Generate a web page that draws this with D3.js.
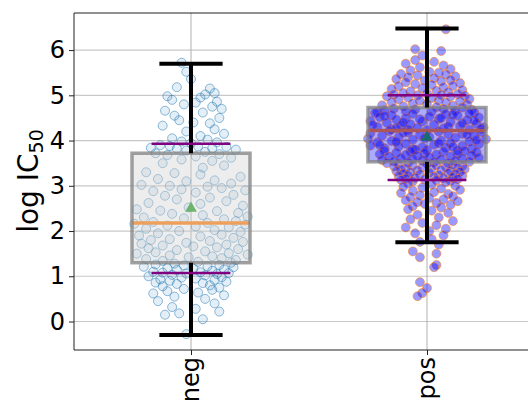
<!DOCTYPE html>
<html><head><meta charset="utf-8">
<script src="https://cdn.jsdelivr.net/npm/d3@7"></script>
<style>body{margin:0;background:#fff}svg{display:block}text{font-family:"DejaVu Sans",sans-serif}</style>
</head><body><svg id="c" width="528" height="404"></svg>
<script>
const categories = ["neg", "pos"];
const yTicks = [0, 1, 2, 3, 4, 5, 6];
const q1 = [1.30, 3.53];
const median = [2.18, 4.22];
const q3 = [3.72, 4.73];
const mean = [2.50, 4.07];
const whiskerLow = [-0.30, 1.75];
const whiskerHigh = [5.70, 6.48];
const pctLow = [1.07, 3.13];
const pctHigh = [3.93, 5.00];

// [jitter offset (category units), log IC50]
const negPoints = [
[-0.04,5.72],[-0.02,5.52],[0.00,5.36],[-0.06,5.18],[0.08,5.15],[0.10,5.05],[0.06,5.02],[-0.10,4.98],[0.04,4.95],[-0.08,4.90],[0.11,4.86],[0.02,4.84],[-0.03,4.80],[0.09,4.75],[0.13,4.70],[-0.11,4.66],[0.05,4.62],[-0.07,4.55],[0.12,4.50],[-0.05,4.45],[0.01,4.40],[0.08,4.38],[-0.12,4.33],[0.10,4.25],[-0.02,4.20],[0.14,4.15],[0.04,4.10],[-0.08,4.05],[0.07,4.02],[-0.04,3.98],[0.11,3.96],[0.00,3.94],
[-0.13,3.90],[-0.09,3.88],[0.03,3.87],[0.15,3.86],[-0.17,3.84],[0.09,3.83],[-0.06,3.82],[0.19,3.80],[-0.02,3.78],[0.06,3.75],[-0.15,3.72],[0.12,3.70],[-0.10,3.68],[0.02,3.65],[0.17,3.62],[-0.04,3.58],[0.09,3.55],[-0.12,3.50],[0.14,3.45],[0.05,3.40],
[-0.19,3.30],[-0.07,3.28],[0.04,3.25],[0.21,3.20],[-0.14,3.15],[0.10,3.12],[-0.02,3.10],[0.17,3.05],[-0.21,3.02],[-0.09,3.00],[0.07,2.98],[0.13,2.95],[-0.04,2.92],[0.23,2.90],[-0.16,2.88],[0.02,2.85],[0.18,2.80],[-0.11,2.78],[0.08,2.74],[-0.06,2.70],[0.15,2.66],[-0.18,2.62],[0.04,2.60],[0.22,2.56],[-0.01,2.52],
[-0.23,2.48],[-0.13,2.45],[0.11,2.44],[0.20,2.40],[-0.08,2.38],[0.05,2.35],[0.24,2.32],[-0.20,2.30],[-0.03,2.28],[0.14,2.26],[0.19,2.22],[-0.16,2.20],[0.07,2.18],[-0.24,2.16],[0.23,2.14],[-0.10,2.12],[0.02,2.10],[0.16,2.08],[-0.19,2.05],[0.10,2.02],[-0.05,2.00],[0.21,1.98],[-0.14,1.95],[0.13,1.92],[-0.22,1.90],[0.04,1.88],[0.18,1.85],[-0.09,1.82],[-0.17,1.80],[0.08,1.78],[0.22,1.76],[-0.02,1.74],[-0.21,1.72],[0.15,1.70],[-0.12,1.68],[0.01,1.66],[0.11,1.64],[-0.18,1.62],[0.20,1.60],[-0.06,1.58],[0.06,1.55],[-0.15,1.53],[0.16,1.51],[-0.23,1.50],[0.24,1.48],[-0.09,1.46],[0.09,1.44],[-0.01,1.42],[0.13,1.40],[-0.19,1.38],[0.19,1.36],[-0.12,1.34],[0.03,1.32],[0.17,1.30],[-0.07,1.28],
[-0.15,1.26],[0.12,1.25],[-0.03,1.24],[0.07,1.22],[-0.20,1.21],[0.18,1.20],[-0.10,1.18],[0.01,1.17],[0.14,1.15],[-0.06,1.14],[0.09,1.12],[-0.16,1.10],[0.04,1.09],[-0.12,1.08],[0.16,1.07],[-0.02,1.06],[0.11,1.05],[-0.08,1.03],[0.06,1.02],[-0.18,1.00],[0.13,0.98],[-0.04,0.97],[0.02,0.95],[-0.13,0.93],[0.10,0.92],[-0.09,0.90],[0.15,0.88],[-0.15,0.86],[0.05,0.85],[-0.06,0.83],[0.08,0.80],
[-0.12,0.78],[0.12,0.75],[-0.03,0.72],[0.09,0.70],[-0.10,0.67],[0.03,0.64],[-0.16,0.62],[0.14,0.58],[-0.07,0.55],[0.06,0.50],[-0.14,0.45],[0.10,0.40],[-0.08,0.32],[0.02,0.28],[0.12,0.22],[-0.05,0.18],[-0.11,0.15],[0.05,0.05],[-0.02,-0.28]
];

const posPoints = [
[0.08,6.46],[-0.05,6.02],[0.06,5.98],
[-0.02,5.88],[-0.05,5.78],[0.03,5.74],[-0.09,5.70],[0.07,5.66],[-0.03,5.62],[0.10,5.58],[-0.07,5.55],[0.01,5.52],[0.05,5.50],
[-0.11,5.47],[0.08,5.46],[-0.04,5.44],[0.12,5.42],[-0.08,5.40],[0.03,5.38],[-0.13,5.36],[0.10,5.34],[-0.01,5.33],[0.06,5.31],[-0.09,5.29],[0.14,5.27],[-0.05,5.25],[0.02,5.23],[0.11,5.21],[-0.12,5.20],[0.07,5.18],[-0.02,5.16],[-0.15,5.14],[0.15,5.12],[0.04,5.10],[-0.07,5.09],[0.09,5.07],[-0.10,5.05],[0.00,5.04],[0.13,5.03],[-0.14,5.02],[0.06,5.01],[-0.04,5.00],[0.16,4.99],
[-0.17,4.98],[0.10,4.97],[-0.08,4.95],[0.02,4.94],[0.18,4.92],[-0.12,4.91],[0.05,4.89],[-0.03,4.88],[0.14,4.87],[-0.15,4.85],[0.08,4.84],[-0.06,4.82],[0.00,4.81],[0.17,4.80],[-0.19,4.78],[0.11,4.77],[-0.10,4.76],[0.04,4.74],[0.15,4.73],[-0.14,4.71],[0.07,4.70],[-0.05,4.69],[0.19,4.68],[-0.18,4.67],[0.12,4.66],[-0.09,4.65],[0.02,4.64],[-0.21,4.63],[0.20,4.62],
[-0.22,4.61],[0.18,4.60],[-0.06,4.59],[0.08,4.58],[-0.15,4.56],[0.13,4.55],[0.01,4.53],[-0.20,4.52],[0.22,4.51],[-0.09,4.49],[0.05,4.48],[-0.13,4.46],[0.17,4.45],[-0.24,4.43],[-0.02,4.42],[0.10,4.41],[-0.17,4.39],[0.21,4.37],[-0.07,4.36],[0.03,4.35],[-0.11,4.33],[0.14,4.32],[-0.21,4.30],[0.24,4.29],[-0.04,4.28],[0.07,4.27],[-0.15,4.25],[0.18,4.24],[0.00,4.23],
[0.11,4.57],[-0.18,4.54],[0.06,4.50],[-0.03,4.47],[0.20,4.44],[-0.10,4.40],[0.15,4.38],[-0.23,4.34],[0.09,4.31],[-0.13,4.27],[0.23,4.26],[-0.08,4.24],
[-0.16,4.21],[0.05,4.20],[0.23,4.19],[-0.08,4.18],[-0.24,4.16],[0.15,4.15],[0.09,4.14],[-0.03,4.12],[-0.19,4.11],[0.20,4.10],[0.01,4.08],[-0.12,4.07],[0.12,4.06],[-0.25,4.04],[0.25,4.03],[-0.06,4.02],[0.06,4.00],[-0.15,3.99],[0.18,3.98],[-0.21,3.96],[0.10,3.95],[-0.09,3.93],[0.22,3.92],[0.03,3.91],[-0.24,3.89],[0.15,3.88],[-0.12,3.87],[-0.02,3.85],[0.08,3.84],[-0.18,3.83],[0.19,3.82],[-0.06,3.81],[0.00,3.79],[0.13,3.78],[-0.10,4.17],[0.17,4.13],[-0.01,4.05],[0.21,4.01],[-0.13,3.97],[0.05,3.94],[-0.20,3.90],[0.11,3.86],[-0.05,3.80],
[-0.18,3.77],[0.16,3.77],[-0.07,3.76],[0.07,3.75],[0.21,3.74],[-0.13,3.73],[-0.01,3.72],[0.13,3.71],[-0.20,3.70],[0.04,3.69],[-0.09,3.68],[0.19,3.67],[-0.04,3.66],[0.10,3.65],[-0.16,3.64],[0.01,3.63],[0.22,3.62],[-0.11,3.61],[0.15,3.60],[-0.06,3.59],[0.06,3.58],[-0.19,3.57],[-0.02,3.56],[0.12,3.55],[-0.14,3.54],[0.18,3.53],[0.03,3.52],[-0.08,3.51],[0.09,3.50],[-0.17,3.50],
[0.00,3.49],[-0.12,3.48],[0.11,3.47],[0.04,3.46],[-0.06,3.45],[0.15,3.44],[-0.14,3.43],[0.08,3.42],[-0.02,3.41],[0.13,3.40],[-0.09,3.39],[0.02,3.38],[0.16,3.37],[-0.11,3.36],[0.06,3.35],[-0.04,3.34],[0.10,3.33],[-0.13,3.32],[0.14,3.31],[-0.07,3.30],[0.01,3.29],[0.09,3.28],[-0.10,3.27],[0.12,3.26],[-0.03,3.25],[0.05,3.24],[-0.08,3.23],[0.15,3.22],[-0.12,3.21],[0.03,3.20],[0.11,3.19],[-0.05,3.18],[0.07,3.17],[-0.09,3.16],[0.13,3.15],[-0.01,3.14],[-0.11,3.13],[0.04,3.12],[0.10,3.11],[-0.06,3.10],
[0.08,3.08],[-0.08,3.05],[0.02,3.03],[0.12,3.00],[-0.10,2.98],[-0.02,2.96],[0.06,2.94],[0.14,2.91],[-0.06,2.89],[0.03,2.86],[-0.11,2.84],[0.09,2.82],[-0.03,2.79],[0.11,2.77],[-0.07,2.75],[0.01,2.73],[0.07,2.70],[-0.09,2.68],[0.13,2.66],[-0.04,2.64],[0.04,2.62],[-0.01,2.60],[0.10,2.58],[-0.06,2.55],[0.06,2.52],
[-0.08,2.48],[0.02,2.45],[0.09,2.40],[-0.04,2.36],[0.05,2.30],[-0.07,2.26],[0.11,2.22],[-0.02,2.18],[0.04,2.13],[-0.09,2.08],[0.08,2.05],[0.01,2.00],
[-0.05,1.95],[0.07,1.90],[0.02,1.82],[-0.03,1.76],[0.05,1.70],[-0.06,1.55],[0.04,1.50],[-0.03,1.42],
[0.04,1.25],[0.03,1.20],[-0.03,0.87],[0.00,0.74],[-0.02,0.63],[-0.04,0.56]
];

const pointSets = [negPoints, posPoints];
const pointStyle = [
  {fill:"#1f77b4", fo:0.12, stroke:"#1f77b4", so:0.5},
  {fill:"#0000ff", fo:0.4, stroke:"#ff7f0e", so:0.55}
];
const boxFill = [{c:"#d3d3d3", o:0.4}, {c:"#0000ff", o:0.33}];

const svg = d3.select("#c");
const L = 74, T = 13, B = 350, R = 545;
const x = d3.scaleLinear().domain([-0.5, 1.5]).range([73, 545]);
const y = d3.scaleLinear().domain([-0.63, 6.82]).range([B, T]);

svg.append("defs").append("clipPath").attr("id","clip")
  .append("rect").attr("x",L).attr("y",T).attr("width",R-L).attr("height",B-T);

// grid
const grid = svg.append("g");
grid.selectAll(".hg").data(yTicks).join("line")
  .attr("x1",L).attr("x2",R).attr("y1",d=>y(d)).attr("y2",d=>y(d))
  .attr("stroke","#b0b0b0").attr("stroke-opacity",0.7).attr("stroke-width",1.2);
grid.selectAll(".vg").data(categories).join("line")
  .attr("x1",(d,i)=>x(i)).attr("x2",(d,i)=>x(i)).attr("y1",T).attr("y2",B)
  .attr("stroke","#b0b0b0").attr("stroke-width",1);

const plot = svg.append("g").attr("clip-path","url(#clip)");
const capHalf = 0.134, pctHalf = 0.167, boxHalf = 0.25;

categories.forEach((cat, i) => {
  const st = pointStyle[i];
  plot.append("g").selectAll("circle").data(pointSets[i]).join("circle")
    .attr("cx", d => x(i + d[0])).attr("cy", d => y(d[1])).attr("r", 4.5)
    .attr("fill", st.fill).attr("fill-opacity", st.fo)
    .attr("stroke", st.stroke).attr("stroke-opacity", st.so).attr("stroke-width", 1);
  // median
  plot.append("line").attr("x1", x(i-boxHalf)).attr("x2", x(i+boxHalf))
    .attr("y1", y(median[i])).attr("y2", y(median[i]))
    .attr("stroke","#ff7f0e").attr("stroke-width",3.5);
  // mean
  plot.append("path").attr("d", d3.symbol(d3.symbolTriangle, 60)())
    .attr("transform", `translate(${x(i)},${y(mean[i])})`).attr("fill","#2ca02c");
  // box
  plot.append("rect").attr("x", x(i-boxHalf)).attr("width", x(i+boxHalf)-x(i-boxHalf))
    .attr("y", y(q3[i])).attr("height", y(q1[i])-y(q3[i]))
    .attr("fill", boxFill[i].c).attr("fill-opacity", boxFill[i].o)
    .attr("stroke","#808080").attr("stroke-opacity",0.75).attr("stroke-width",3.5);
  // whiskers
  plot.append("line").attr("x1",x(i)).attr("x2",x(i)).attr("y1",y(q3[i])).attr("y2",y(whiskerHigh[i]))
    .attr("stroke","#000").attr("stroke-width",4);
  plot.append("line").attr("x1",x(i)).attr("x2",x(i)).attr("y1",y(q1[i])).attr("y2",y(whiskerLow[i]))
    .attr("stroke","#000").attr("stroke-width",4);
  [whiskerLow[i], whiskerHigh[i]].forEach(v => {
    plot.append("line").attr("x1",x(i-capHalf)).attr("x2",x(i+capHalf)).attr("y1",y(v)).attr("y2",y(v))
      .attr("stroke","#000").attr("stroke-width",4);
  });
  [pctLow[i], pctHigh[i]].forEach(v => {
    plot.append("line").attr("x1",x(i-pctHalf)).attr("x2",x(i+pctHalf)).attr("y1",y(v)).attr("y2",y(v))
      .attr("stroke","#800080").attr("stroke-width",2.5);
  });
});

// spines
svg.append("line").attr("x1",L).attr("x2",L).attr("y1",T).attr("y2",B).attr("stroke","#222").attr("stroke-width",1);
svg.append("line").attr("x1",L).attr("x2",R).attr("y1",T).attr("y2",T).attr("stroke","#222").attr("stroke-width",1);
svg.append("line").attr("x1",L).attr("x2",R).attr("y1",B).attr("y2",B).attr("stroke","#222").attr("stroke-width",1);

// y axis
const ya = svg.append("g").attr("transform",`translate(${L},0)`)
  .call(d3.axisLeft(y).tickValues(yTicks).tickFormat(d3.format("d")).tickSize(5).tickPadding(4));
ya.select(".domain").remove();
ya.selectAll(".tick line").attr("stroke","#222");
ya.selectAll(".tick text").attr("font-size",24).attr("fill","#000").attr("font-family","DejaVu Sans");

// x axis
const xa = svg.append("g").attr("transform",`translate(0,${B})`)
  .call(d3.axisBottom(x).tickValues([0,1]).tickFormat(i=>categories[i]).tickSize(5));
xa.select(".domain").remove();
xa.selectAll(".tick line").attr("stroke","#222");
xa.selectAll(".tick text").attr("font-size",24).attr("fill","#000").attr("font-family","DejaVu Sans")
  .attr("transform","translate(0,7) rotate(-90)").attr("text-anchor","end")
  .attr("x",0).attr("y",0).attr("dy","0.33em");

// y label
const yl = svg.append("text").attr("transform","translate(38,181) rotate(-90)")
  .attr("text-anchor","middle").attr("font-size",28).attr("fill","#000");
yl.append("tspan").text("log IC");
yl.append("tspan").attr("font-size",19).attr("dy",5).text("50");
</script></body></html>
